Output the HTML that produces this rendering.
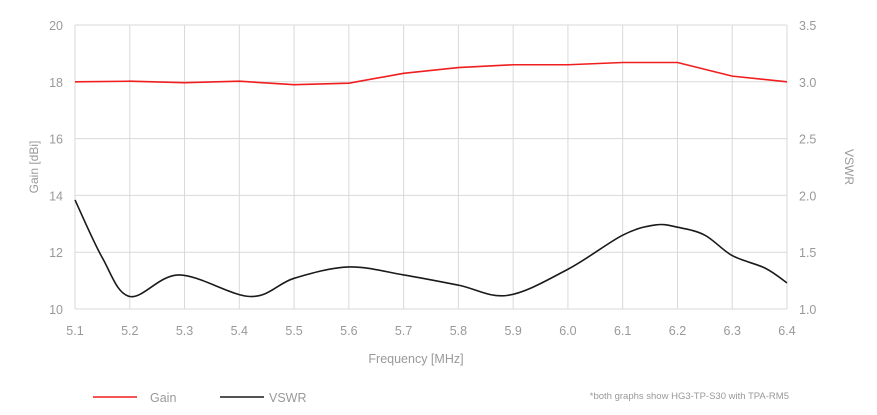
<!DOCTYPE html>
<html><head><meta charset="utf-8"><style>
body{margin:0;background:#fff;font-family:"Liberation Sans",sans-serif}
svg text{fill:#999;font-family:"Liberation Sans",sans-serif}
</style></head><body>
<svg id="chart" width="877" height="410">
<g id="grid"></g>
<g id="axes"></g>
<path id="gain" fill="none" stroke="#f01e1e" stroke-width="1.6" stroke-linejoin="round"/>
<path id="vswr" fill="none" stroke="#1a1a1a" stroke-width="1.6"/>
<text x="38" y="167" font-size="12" transform="rotate(-90 38 167)" text-anchor="middle">Gain [dBi]</text>
<text x="845" y="167" font-size="12" transform="rotate(90 845 167)" text-anchor="middle">VSWR</text>
<text x="416" y="363" font-size="12.5" text-anchor="middle">Frequency [MHz]</text>
<line x1="93" y1="397" x2="137" y2="397" stroke="#f01e1e" stroke-width="1.6"/>
<text x="150" y="402" font-size="12.5">Gain</text>
<line x1="220" y1="397" x2="264" y2="397" stroke="#1a1a1a" stroke-width="1.6"/>
<text x="269" y="402" font-size="12.5">VSWR</text>
<text x="789" y="399" font-size="9.5" text-anchor="end">*both graphs show HG3-TP-S30 with TPA-RM5</text>
</svg>
<script>
const xTicks=[5.1,5.2,5.3,5.4,5.5,5.6,5.7,5.8,5.9,6.0,6.1,6.2,6.3,6.4];
const gainTicks=[10,12,14,16,18,20];
const vswrTicks=[1.0,1.5,2.0,2.5,3.0,3.5];
const gainFreq=[5.1,5.2,5.3,5.4,5.5,5.6,5.7,5.8,5.9,6.0,6.1,6.2,6.3,6.4];
const gainVals=[18.0,18.02,17.97,18.02,17.9,17.95,18.3,18.5,18.6,18.6,18.68,18.68,18.2,18.0];
const vswrFreq=[5.1,5.15,5.2,5.29,5.42,5.5,5.6,5.7,5.8,5.89,6.0,6.1,6.16,6.2,6.25,6.3,6.36,6.4];
const vswrVals=[1.96,1.45,1.11,1.30,1.11,1.27,1.37,1.30,1.21,1.12,1.35,1.65,1.74,1.72,1.65,1.47,1.36,1.23];
const L=75,R=787,T=25,B=309;
const xs=f=>L+(f-5.1)/(6.4-5.1)*(R-L);
const yg=v=>B-(v-10)/(20-10)*(B-T);
const yv=v=>B-(v-1)/(3.5-1)*(B-T);
const NS="http://www.w3.org/2000/svg";
const grid=document.getElementById('grid'),axes=document.getElementById('axes');
function mk(tag,attrs,parent){const e=document.createElementNS(NS,tag);for(const k in attrs)e.setAttribute(k,attrs[k]);parent.appendChild(e);return e;}
xTicks.forEach(f=>{
 const l=mk('line',{x1:xs(f),x2:xs(f),y1:T,y2:B,stroke:'#d9d9d9','stroke-width':1},grid);
 
 
 const t=mk('text',{x:xs(f),y:B+26,'font-size':12.5,'text-anchor':'middle'},axes);
 t.textContent=f.toFixed(1);
 
 
});
gainTicks.forEach(v=>{
 const l=mk('line',{x1:L,x2:R,y1:yg(v),y2:yg(v),stroke:'#d9d9d9','stroke-width':1},grid);
 
 
 const t=mk('text',{x:L-12,y:yg(v)+5,'font-size':12.5,'text-anchor':'end'},axes);
 t.textContent=v;
 
 
});
vswrTicks.forEach(v=>{
 const t=mk('text',{x:R+12,y:yv(v)+5,'font-size':12.5},axes);
 t.textContent=v.toFixed(1);
 
 
});
function smooth(p){let d=`M${p[0][0]},${p[0][1]}`;for(let i=0;i<p.length-1;i++){const p0=p[i-1]||p[i],p1=p[i],p2=p[i+1],p3=p[i+2]||p2;
 d+=` C${p1[0]+(p2[0]-p0[0])/6},${p1[1]+(p2[1]-p0[1])/6} ${p2[0]-(p3[0]-p1[0])/6},${p2[1]-(p3[1]-p1[1])/6} ${p2[0]},${p2[1]}`;}return d;}
function linear(p){return p.map((q,i)=>(i?'L':'M')+q[0]+','+q[1]).join(' ');}
document.getElementById('gain').setAttribute('d',linear(gainFreq.map((f,i)=>[xs(f),yg(gainVals[i])])));
document.getElementById('vswr').setAttribute('d',smooth(vswrFreq.map((f,i)=>[xs(f),yv(vswrVals[i])])));
</script>
</body></html>
